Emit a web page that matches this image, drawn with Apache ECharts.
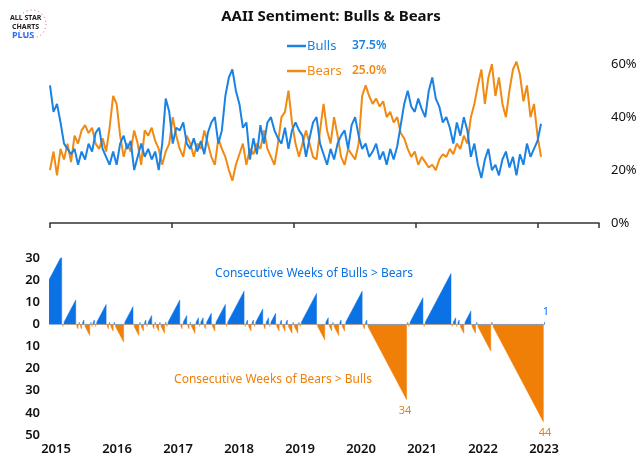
<!DOCTYPE html>
<html><head><meta charset="utf-8">
<script src="https://cdn.jsdelivr.net/npm/echarts@6/dist/echarts.min.js"></script>
<style>html,body{margin:0;padding:0;background:#fff}#c{width:640px;height:463px}</style>
</head><body><div id="c"></div>
<script>
// weekly sample every 3 weeks starting 2015-01-01
const startDate = '2015-01-01';
const stepDays = 21;
const bulls = [52,42,45,38,30,28,26,28,22,27,24,30,27,34,36,28,25,22,27,22,30,33,28,31,20,25,30,25,28,24,27,20,30,47,42,30,36,35,38,30,28,32,27,31,26,34,38,40,30,35,48,55,58,50,45,36,38,24,32,26,37,30,38,40,35,32,30,36,28,35,38,35,33,25,32,38,40,30,26,22,28,24,30,33,35,28,37,40,33,28,30,25,27,30,24,27,22,28,24,29,37,45,50,44,42,47,43,40,50,55,47,44,38,40,36,30,38,33,40,35,25,30,22,17,24,28,20,22,18,24,27,21,25,18,26,22,30,25,28,31,37.5];
const bears = [20,27,18,28,24,30,23,33,30,35,37,34,36,30,28,32,27,36,48,45,33,25,30,27,35,30,22,35,33,36,31,28,22,27,30,40,33,28,25,33,30,25,30,28,35,30,25,22,32,28,25,20,16,22,26,30,22,28,26,30,28,35,28,25,22,30,40,42,50,38,30,25,30,35,30,25,24,35,45,35,30,40,33,25,22,28,26,24,30,48,52,48,45,47,44,46,40,42,38,40,34,32,28,25,27,22,25,23,21,22,20,24,26,25,28,26,30,28,33,30,40,45,52,58,45,55,60,48,55,45,40,50,58,61,56,46,52,40,45,33,25];
// consecutive-week streaks in order (+ bulls > bears, - bears > bulls); first streak began 20 weeks before 2015
const streakLeadWeeks = 20;
const streaks = [31,-1,11,-2,1,-2,2,-5,1,-1,2,-1,9,-2,1,-3,1,-8,8,-5,1,-3,2,-1,4,-2,1,-3,1,-4,1,-1,11,-2,4,-2,1,-4,3,-1,3,-2,5,-3,9,-1,15,-1,2,-3,2,-1,7,-2,3,-1,5,-3,2,-3,2,-4,1,-4,1,-1,14,-7,3,-3,1,-5,2,-3,15,-2,2,-34,1,-1,12,-1,23,-1,3,-1,2,-4,6,-4,1,-12,1,-44,1];
const legendBulls = 'Bulls', legendBullsVal = '37.5%';
const legendBears = 'Bears', legendBearsVal = '25.0%';

const BLUE = '#1a82e2', ORANGE = '#f08a12', BBLUE = '#0b72e6', BORANGE = '#f07f08';
const t0 = Date.UTC(2015,0,1);
const yr = d => 2015 + (d - t0) / (365.25*86400000);
const s0 = Date.parse(startDate + 'T00:00:00Z');
const bullData = bulls.map((v,i)=>[yr(s0 + i*stepDays*86400000), v]);
const bearData = bears.map((v,i)=>[yr(s0 + i*stepDays*86400000), v]);

const wk = 7/365.25;
let w = 2015 - streakLeadWeeks*wk;
const posData = [], negData = [];
streaks.forEach(L => {
  const a = w, b = w + (Math.abs(L)-1)*wk;
  const tgt = L > 0 ? posData : negData;
  const s = L > 0 ? 1 : -1;
  tgt.push([a,0],[a,s],[b,s*Math.abs(L)],[b,0]);
  w += Math.abs(L)*wk;
});

const font = '"Noto Sans", sans-serif';
const chart = echarts.init(document.getElementById('c'));
chart.setOption({
  animation:false,
  textStyle:{fontFamily:font},
  title:{text:'AAII Sentiment: Bulls & Bears', left:326, textAlign:'center', top:4,
    textStyle:{fontSize:15, fontWeight:'bold', color:'#111', fontFamily:font}},
  grid:[{left:50,right:41,top:51,height:172},{left:50,right:41,top:258,height:177}],
  xAxis:[
    {type:'value',gridIndex:0,min:2015,max:2024,interval:2,
     axisLine:{show:true,onZero:false,lineStyle:{color:'#333',width:1.5}},
     axisTick:{show:true,length:5,lineStyle:{color:'#333',width:1.5}},
     axisLabel:{show:false},splitLine:{show:false}},
    {type:'value',gridIndex:1,min:2015,max:2024,interval:1,
     axisLine:{show:false},axisTick:{show:false},splitLine:{show:false},
     axisLabel:{showMaxLabel:false,formatter:v=>String(Math.round(v)),color:'#111',fontSize:13,fontWeight:600,margin:8,padding:[0,0,0,12]}}
  ],
  yAxis:[
    {type:'value',gridIndex:0,position:'right',min:0,max:65,interval:20,
     axisLine:{show:false},axisTick:{show:false},splitLine:{show:false},
     axisLabel:{showMaxLabel:false,formatter:'{value}%',color:'#111',fontSize:13,margin:12}},
    {type:'value',gridIndex:1,min:-50,max:30,interval:10,
     axisLine:{show:false},axisTick:{show:false},splitLine:{show:false},
     axisLabel:{formatter:v=>String(Math.abs(v)),color:'#111',fontSize:13,fontWeight:600,margin:10}}
  ],
  series:[
    {type:'line',xAxisIndex:0,yAxisIndex:0,data:bearData,showSymbol:false,lineStyle:{color:ORANGE,width:2},itemStyle:{color:ORANGE}},
    {type:'line',xAxisIndex:0,yAxisIndex:0,data:bullData,showSymbol:false,lineStyle:{color:BLUE,width:2},itemStyle:{color:BLUE}},
    {type:'line',xAxisIndex:1,yAxisIndex:1,data:posData,showSymbol:false,lineStyle:{width:0.5,color:BBLUE},areaStyle:{color:BBLUE,opacity:1}},
    {type:'line',xAxisIndex:1,yAxisIndex:1,data:negData,showSymbol:false,lineStyle:{width:0.5,color:BORANGE},areaStyle:{color:BORANGE,opacity:1}}
  ],
  graphic:[
    {type:'text',left:10,top:14,style:{text:'ALL STAR',font:'bold 7px '+font,fill:'#222'}},
    {type:'text',left:12,top:23,style:{text:'CHARTS',font:'bold 7px '+font,fill:'#222'}},
    {type:'text',left:12,top:31,style:{text:'PLUS',font:'bold 9px '+font,fill:'#2a6df0'}},
    {type:'circle',shape:{cx:32,cy:24,r:14},style:{fill:'none',stroke:'#e0457b',lineWidth:1,lineDash:[1,3]}},
    {type:'line',shape:{x1:287,y1:46,x2:306,y2:46},style:{stroke:BLUE,lineWidth:2.5}},
    {type:'text',x:307,y:46,style:{text:legendBulls,font:'13px '+font,fill:BLUE,verticalAlign:'middle'}},
    {type:'text',x:352,y:46,style:{text:legendBullsVal,font:'600 12px '+font,fill:BLUE,verticalAlign:'middle'}},
    {type:'line',shape:{x1:287,y1:71,x2:306,y2:71},style:{stroke:ORANGE,lineWidth:2.5}},
    {type:'text',x:307,y:71,style:{text:legendBears,font:'13px '+font,fill:ORANGE,verticalAlign:'middle'}},
    {type:'text',x:352,y:71,style:{text:legendBearsVal,font:'600 12px '+font,fill:ORANGE,verticalAlign:'middle'}},
    {type:'text',x:314,y:274,style:{text:'Consecutive Weeks of Bulls > Bears',font:'12px '+font,fill:BBLUE,align:'center',verticalAlign:'middle'}},
    {type:'text',x:273,y:380,style:{text:'Consecutive Weeks of Bears > Bulls',font:'12px '+font,fill:BORANGE,align:'center',verticalAlign:'middle'}},
    {type:'text',x:405,y:411,style:{text:'34',font:'11px '+font,fill:BORANGE,align:'center',verticalAlign:'middle'}},
    {type:'text',x:545,y:433,style:{text:'44',font:'11px '+font,fill:BORANGE,align:'center',verticalAlign:'middle'}},
    {type:'text',x:546,y:312,style:{text:'1',font:'11px '+font,fill:BBLUE,align:'center',verticalAlign:'middle'}}
  ]
});
</script></body></html>
